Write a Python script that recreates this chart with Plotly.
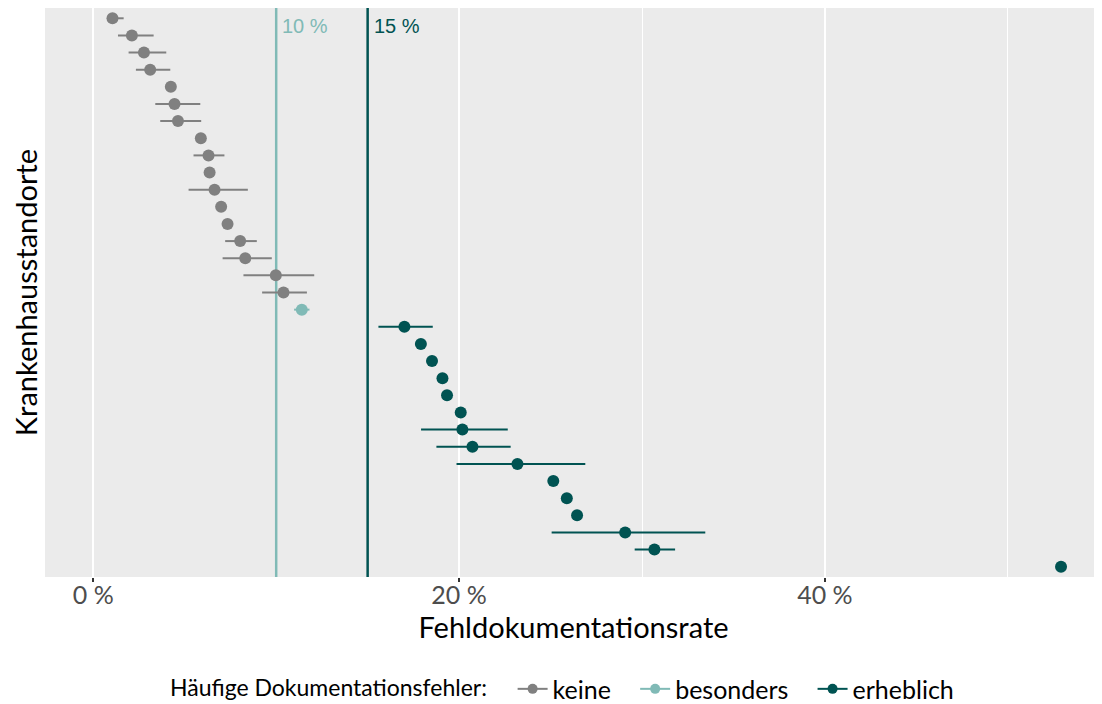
import plotly.graph_objects as go

# --------------------------
# Data
# --------------------------

rate = [1.05, 2.11, 2.77, 3.11, 4.24, 4.44, 4.63, 5.88, 6.30, 6.36, 6.63,
        6.99, 7.34, 8.03, 8.31, 9.98, 10.40, 11.40, 17.01, 17.91, 18.52,
        19.09, 19.34, 20.09, 20.18, 20.73, 23.19, 25.15, 25.89, 26.45,
        29.08, 30.68, 52.91]
lower = [0.85, 1.35, 1.93, 2.33, None, 3.39, 3.66, None, 5.48, None, 5.21,
         None, None, 7.21, 7.07, 8.21, 9.23, 10.98, 15.59, None, None,
         None, None, None, 17.92, 18.76, 19.86, None, None, None,
         25.06, 29.60, None]
upper = [1.66, 3.30, 3.99, 4.21, None, 5.85, 5.90, None, 7.17, None, 8.45,
         None, None, 8.94, 9.76, 12.08, 11.68, 11.82, 18.56, None, None,
         None, None, None, 22.66, 22.82, 26.90, None, None, None,
         33.46, 31.81, None]
group = ["keine"] * 17 + ["besonders"] + ["erheblich"] * 15

groups = ["keine", "besonders", "erheblich"]
colors = {"keine": "#808080", "besonders": "#80bab6", "erheblich": "#005352"}

thresholds = [10, 15]
threshold_labels = ["10 %", "15 %"]
threshold_colors = ["#80bab6", "#005352"]

tick_vals = [0, 20, 40]
tick_text = ["0 %", "20 %", "40 %"]

FONT = "Lato"
Y_RANGE = [33.6, 0.4]

fig = go.Figure()

# --------------------------
# Threshold lines (drawn first so points sit on top)
# --------------------------

for t, col in zip(thresholds, threshold_colors):
    fig.add_trace(
        go.Scatter(
            x=[t, t],
            y=Y_RANGE,
            mode="lines",
            line=dict(color=col, width=2.5),
            showlegend=False,
            hoverinfo="skip"
        )
    )

for t, lab, col in zip(thresholds, threshold_labels, threshold_colors):
    fig.add_annotation(x=t, y=1, yref="paper", text=lab, showarrow=False,
                       xanchor="left", yanchor="top", xshift=4, yshift=-5,
                       font=dict(family="Liberation Sans, Arial", size=20,
                                 color=col))

# --------------------------
# Points with intervals
# --------------------------

rank = list(range(1, len(rate) + 1))

for g in groups:
    idx = [i for i in range(len(rate)) if group[i] == g]
    xs = [rate[i] for i in idx]
    plus = [(upper[i] - rate[i]) if upper[i] is not None else 0 for i in idx]
    minus = [(rate[i] - lower[i]) if lower[i] is not None else 0 for i in idx]
    fig.add_trace(
        go.Scatter(
            x=xs,
            y=[rank[i] for i in idx],
            mode="markers",
            marker=dict(color=colors[g], size=12),
            error_x=dict(type="data", array=plus, arrayminus=minus,
                         color=colors[g], thickness=2, width=0),
            showlegend=False,
            hoverinfo="x"
        )
    )
    # legend entry (line through point, like the pointrange key)
    fig.add_trace(
        go.Scatter(
            x=[None], y=[None],
            mode="lines+markers",
            name=g + "\u00a0\u00a0\u00a0",
            marker=dict(color=colors[g], size=10),
            line=dict(color=colors[g], width=2)
        )
    )

# --------------------------
# Layout
# (page body has an 8px margin, so the figure is 8px smaller)
# --------------------------

fig.update_layout(
    width=1094,
    height=696,
    paper_bgcolor="white",
    plot_bgcolor="#ebebeb",
    margin=dict(l=37, r=0, t=0, b=127, autoexpand=False),
    font=dict(family=FONT, size=25, color="black"),
    xaxis=dict(
        range=[-2.64, 55.15],
        tickvals=tick_vals,
        ticktext=tick_text,
        tickfont=dict(size=25, color="#4d4d4d"),
        ticks="outside",
        ticklen=4,
        tickwidth=1.5,
        tickcolor="#333333",
        ticklabelstandoff=-8,
        showgrid=True,
        gridcolor="white",
        gridwidth=2,
        minor=dict(tickvals=[10, 30, 50], showgrid=True, gridcolor="white",
                   gridwidth=1.2, ticks=""),
        zeroline=False,
        showline=False,
        automargin=False,
        title=dict(text="Fehldokumentationsrate", font=dict(size=29),
                   standoff=4)
    ),
    yaxis=dict(
        range=Y_RANGE,
        showticklabels=False,
        showgrid=False,
        zeroline=False,
        ticks="",
        automargin=False,
        title=dict(text="Krankenhausstandorte", font=dict(size=29),
                   standoff=10)
    ),
    legend=dict(
        orientation="h",
        x=0.5,
        xanchor="center",
        y=-0.197,
        yanchor="middle",
        title=dict(text="Häufige Dokumentationsfehler:\u00a0\u00a0\u00a0",
                   font=dict(size=23)),
        font=dict(size=25)
    )
)

fig.write_html("out.html")
